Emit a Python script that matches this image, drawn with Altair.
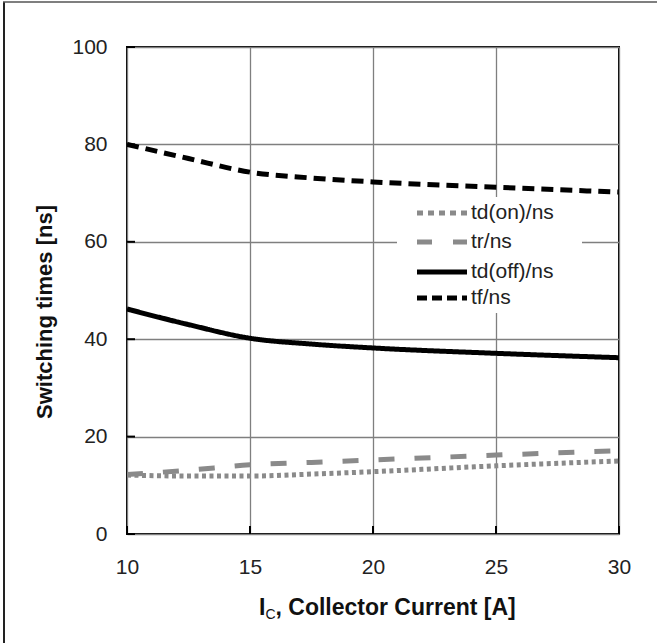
import altair as alt
import pandas as pd

# Collector current [A]
ic = [10, 12.5, 15, 17.5, 20, 25, 30]

# Switching times [ns]
td_on = [12.1, 11.9, 11.9, 12.3, 12.8, 14.0, 15.0]
tr = [12.2, 13.1, 14.2, 14.7, 15.2, 16.2, 17.1]
td_off = [46.2, 43.0, 40.2, 39.0, 38.2, 37.1, 36.2]
tf = [80.0, 77.1, 74.3, 73.1, 72.3, 71.2, 70.2]

series_names = ["td(on)/ns", "tr/ns", "td(off)/ns", "tf/ns"]
series_values = [td_on, tr, td_off, tf]
series_color = ["#8a8a8a", "#8a8a8a", "#000000", "#000000"]
series_dash = [[4, 3.5], [16, 20], [1, 0], [12, 7]]
legend_dash = [[6, 5], [15, 21], [1, 0], [10, 5]]

x_ticks = [10, 15, 20, 25, 30]
y_ticks = [0, 20, 40, 60, 80, 100]

W, H = 492, 487
FONT = "Liberation Sans"

rows = []
for name, vals in zip(series_names, series_values):
    for x, y in zip(ic, vals):
        rows.append({"ic": x, "t": y, "series": name})
df = pd.DataFrame(rows)

x_scale = alt.Scale(domain=[10, 30], nice=False, zero=False)
y_scale = alt.Scale(domain=[0, 100], nice=False)

x_axis = alt.Axis(
    values=x_ticks, grid=True, ticks=False, domain=False, title=None,
    labelFontSize=21, labelFont=FONT, labelColor="#222222", labelPadding=22,
    gridColor="#7f7f7f", gridWidth=1.3, labelFlush=False,
)
y_axis = alt.Axis(
    values=y_ticks, grid=True, ticks=False, domain=False, title=None,
    labelFontSize=21, labelFont=FONT, labelColor="#222222", labelPadding=20,
    gridColor="#7f7f7f", gridWidth=1.3, labelFlush=False,
)

# axes + grid carried by an invisible base layer
base = alt.Chart(pd.DataFrame({"ic": [10], "t": [0]})).mark_point(opacity=0).encode(
    x=alt.X("ic:Q", scale=x_scale, axis=x_axis),
    y=alt.Y("t:Q", scale=y_scale, axis=y_axis),
)

# white legend box hides the grid behind it
legend_box = alt.Chart(pd.DataFrame({"a": [0]})).mark_rect(fill="white").encode(
    x=alt.value(270), x2=alt.value(455), y=alt.value(150), y2=alt.value(266)
)

lines = []
for name, color, dash in zip(series_names, series_color, series_dash):
    lines.append(
        alt.Chart(df[df.series == name])
        .mark_line(color=color, strokeDash=dash, strokeWidth=5, interpolate="monotone",
                   strokeCap="butt", clip=True)
        .encode(x=alt.X("ic:Q", scale=x_scale), y=alt.Y("t:Q", scale=y_scale))
    )

# legend entries
legend_layers = []
row_y = [166, 195, 225, 251]
for name, color, dash, ry in zip(series_names, series_color, legend_dash, row_y):
    legend_layers.append(
        alt.Chart(pd.DataFrame({"s": [name]})).mark_rule(
            color=color, strokeDash=dash, strokeWidth=5, strokeCap="butt"
        ).encode(x=alt.value(290), x2=alt.value(340), y=alt.value(ry))
    )
    legend_layers.append(
        alt.Chart(pd.DataFrame({"s": [name]})).mark_text(
            align="left", baseline="middle", fontSize=21, font=FONT, color="#222222"
        ).encode(text="s:N", x=alt.value(344), y=alt.value(ry))
    )

# inward tick marks
y_tick_marks = alt.Chart(pd.DataFrame({"t": y_ticks})).mark_rule(color="black", strokeWidth=2).encode(
    y=alt.Y("t:Q", scale=y_scale), x=alt.value(0), x2=alt.value(8)
)
x_tick_marks = alt.Chart(pd.DataFrame({"ic": x_ticks})).mark_rule(color="black", strokeWidth=2).encode(
    x=alt.X("ic:Q", scale=x_scale), y=alt.value(H), y2=alt.value(H - 8)
)

# axis titles
y_title = alt.Chart(pd.DataFrame({"s": ["Switching times [ns]"]})).mark_text(
    angle=270, align="center", baseline="middle", fontSize=22, fontWeight="bold",
    font=FONT, color="#111111"
).encode(text="s:N", x=alt.value(-82), y=alt.value(265))

xt_main = alt.Chart(pd.DataFrame({"s": ["I"]})).mark_text(
    align="left", baseline="alphabetic", fontSize=23, fontWeight="bold", font=FONT, color="#111111"
).encode(text="s:N", x=alt.value(132), y=alt.value(568))
xt_sub = alt.Chart(pd.DataFrame({"s": ["C"]})).mark_text(
    align="left", baseline="alphabetic", fontSize=14, fontWeight="normal", font=FONT, color="#111111"
).encode(text="s:N", x=alt.value(138.5), y=alt.value(572))
xt_rest = alt.Chart(pd.DataFrame({"s": [", Collector Current [A]"]})).mark_text(
    align="left", baseline="alphabetic", fontSize=23, fontWeight="bold", font=FONT, color="#111111"
).encode(text="s:N", x=alt.value(148.5), y=alt.value(568))

# outer frame edges
frame_left = alt.Chart(pd.DataFrame({"a": [0]})).mark_rule(color="#222222", strokeWidth=2).encode(
    x=alt.value(-123), y=alt.value(-45), y2=alt.value(643 - 47)
)
frame_top = alt.Chart(pd.DataFrame({"a": [0]})).mark_rule(color="#555555", strokeWidth=1.5).encode(
    y=alt.value(-45), x=alt.value(-124), x2=alt.value(657 - 127)
)

chart = alt.layer(
    base, legend_box, *lines, *legend_layers, y_tick_marks, x_tick_marks,
    y_title, xt_main, xt_sub, xt_rest, frame_left, frame_top,
).properties(
    width=W, height=H,
    autosize=alt.AutoSizeParams(type="none"),
    padding={"left": 127, "top": 47, "right": 38, "bottom": 109},
    background="white",
).configure_view(stroke="black", strokeWidth=2)

chart.save("out.html", embed_options={"renderer": "svg", "actions": False})
